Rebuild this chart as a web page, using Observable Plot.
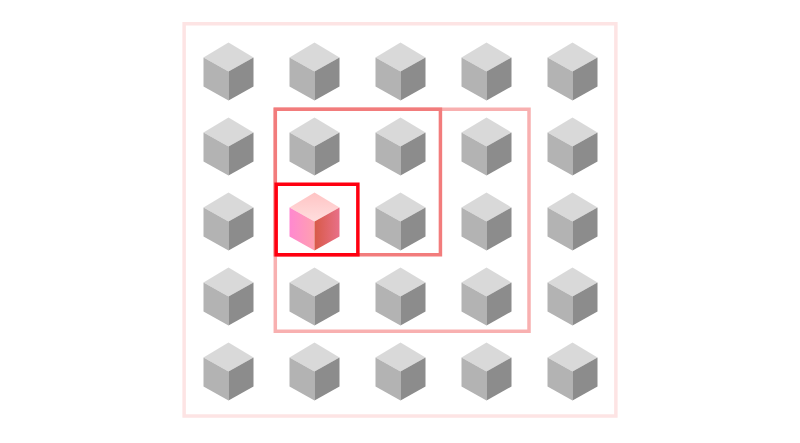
<!DOCTYPE html>
<html><head><meta charset="utf-8">
<script src="https://cdn.jsdelivr.net/npm/d3@7"></script>
<script src="https://cdn.jsdelivr.net/npm/@observablehq/plot@0.6"></script>
<style>body{margin:0;background:#fff}</style>
</head><body><div id="chart"></div>
<script>
// grid of cubes, columns and rows
const cols = [0, 1, 2, 3, 4]
const rows = [0, 1, 2, 3, 4]
const highlight = {col: 1, row: 2}

// nested frames (col/row units)
const frames = [
  {x1: -0.51, x2: 4.51, y1: -0.63, y2: 4.6, stroke: '#fde4e4'},
  {x1: 0.55, x2: 3.5, y1: 0.51, y2: 3.47, stroke: '#f8b0b0'},
  {x1: 0.55, x2: 2.47, y1: 0.51, y2: 2.45, stroke: '#f27c7c'},
  {x1: 0.56, x2: 1.51, y1: 1.51, y2: 2.45, stroke: '#ff0010'},
]

// face shapes around cube centre, px offsets
const hw = 25 / 86, s = 1 / 75
const faces = {
  top: [[0, -29], [hw, -14], [0, 0], [-hw, -14]],
  left: [[-hw, -14], [0, 0], [0, 29], [-hw, 15]],
  right: [[hw, -14], [0, 0], [0, 29], [hw, 15]],
}
const grey = {top: '#d9d9d9', left: '#b3b3b3', right: '#8c8c8c'}
const pink = {top: 'url(#gTop)', left: 'url(#gLeft)', right: 'url(#gRight)'}

const pts = []
for (const r of rows) for (const c of cols) {
  const hi = c === highlight.col && r === highlight.row
  for (const f of ['top', 'left', 'right']) {
    const id = `${c}-${r}-${f}`
    for (const [dx, dy] of faces[f]) pts.push({id, x: c + dx, y: r + dy * s, fill: hi ? pink[f] : grey[f]})
  }
}

const chart = Plot.plot({
  width: 800, height: 443,
  margin: 0,
  x: {domain: [-228 / 86, 572 / 86], axis: null},
  y: {domain: [-71 / 75, 372 / 75], reverse: true, axis: null},
  marks: [
    Plot.rect(frames, {x1: 'x1', x2: 'x2', y1: 'y1', y2: 'y2', fill: 'none', stroke: 'stroke', strokeWidth: 3.5}),
    Plot.line(pts, {x: 'x', y: 'y', z: 'id', fill: 'fill', stroke: null, curve: 'linear-closed'}),
  ]
})

const defs = d3.select(chart).insert('defs', ':first-child')
const grad = (id, a, b, x2, y2) => {
  const g = defs.append('linearGradient').attr('id', id).attr('x1', 0).attr('y1', 0).attr('x2', x2).attr('y2', y2)
  g.append('stop').attr('offset', 0).attr('stop-color', a)
  g.append('stop').attr('offset', 1).attr('stop-color', b)
}
grad('gTop', '#ffc4c4', '#ffdede', 0, 1)
grad('gLeft', '#ff88d0', '#ffa0b0', 1, 0)
grad('gRight', '#d85a48', '#e87088', 1, 0)

d3.select('#chart').append(() => chart)
</script></body></html>
